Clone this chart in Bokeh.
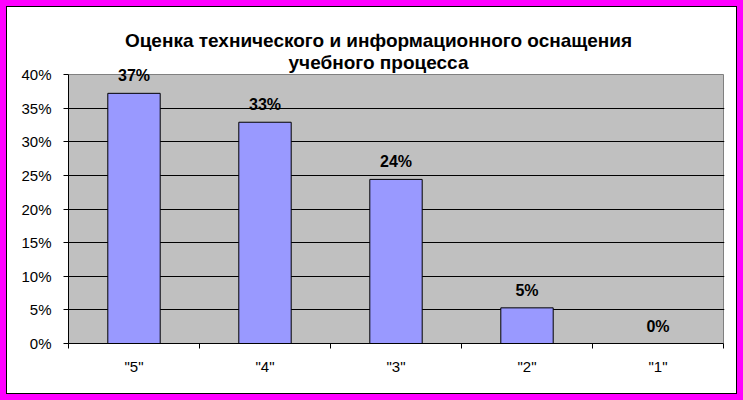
from bokeh.plotting import figure
from bokeh.models import (Range1d, FixedTicker, NumeralTickFormatter, LabelSet,
                          ColumnDataSource, Label)
from bokeh.core.properties import value
from bokeh.embed import file_html
from bokeh.resources import INLINE

# ---- data ----
categories = ['"5"', '"4"', '"3"', '"2"', '"1"']
values = [0.372, 0.329, 0.244, 0.053, 0.0]
value_labels = ["37%", "33%", "24%", "5%", "0%"]
y_ticks = [0.0, 0.05, 0.10, 0.15, 0.20, 0.25, 0.30, 0.35, 0.40]
title_lines = ["Оценка технического и информационного оснащения",
               "учебного процесса"]

FONT = "Liberation Sans"

n = len(categories)
centers = [i + 0.5 for i in range(n)]
bounds = [float(i) for i in range(n + 1)]

# ---- layout (pixels) ----
W, H = 743, 400
AREA_LEFT, AREA_TOP, AREA_W, AREA_H = 68, 74, 655, 269   # gray plot area
FRAME_TOP, PAD_RIGHT = 8, 1                               # frame extends up to hold the title
PAD_TOP = AREA_TOP - FRAME_TOP
y_max = y_ticks[-1] * (AREA_H + PAD_TOP) / AREA_H
x_max = n * (AREA_W + PAD_RIGHT) / AREA_W


def px_to_x(px):
    return (px - AREA_LEFT) / AREA_W * n


def px_to_y(py):
    return (AREA_TOP + AREA_H - py) / AREA_H * y_ticks[-1]


src = ColumnDataSource(dict(x=centers, top=values, cat=categories, lab=value_labels))

p = figure(width=W, height=H,
           x_range=Range1d(0, x_max), y_range=Range1d(y_ticks[0], y_max),
           output_backend="svg", toolbar_location=None,
           min_border_left=AREA_LEFT, min_border_right=W - AREA_LEFT - AREA_W - PAD_RIGHT,
           min_border_top=FRAME_TOP, min_border_bottom=H - AREA_TOP - AREA_H)
p.title_location = None

p.styles = {"background-color": "white",
            "box-shadow": "inset 0 0 0 6px #FF00FF, inset 0 0 0 7px #000000"}

p.background_fill_color = None
p.border_fill_color = None
p.outline_line_color = None

# gray plot area with its gray border
p.quad(left=0, right=n, bottom=y_ticks[0], top=y_ticks[-1],
       fill_color="#C0C0C0", line_color="#808080", line_width=1, level="image")

p.vbar(x="x", top="top", bottom=0, width=0.4, source=src,
       fill_color="#9999FF", line_color="black", line_width=1)

# axes
p.yaxis.ticker = FixedTicker(ticks=y_ticks)
p.yaxis.bounds = (y_ticks[0], y_ticks[-1])
p.yaxis.formatter = NumeralTickFormatter(format="0%")
p.yaxis.major_tick_out = 5
p.yaxis.major_tick_in = 0
p.yaxis.minor_tick_out = 0
p.yaxis.minor_tick_in = 0
p.yaxis.major_label_standoff = 12
p.yaxis.major_label_text_font = FONT
p.yaxis.major_label_text_font_size = "15px"
p.yaxis.major_label_text_color = "black"
p.yaxis.axis_line_color = "black"

p.xaxis.ticker = FixedTicker(ticks=centers, minor_ticks=bounds)
p.xaxis.bounds = (0, n)
p.xaxis.major_label_overrides = {c: cat for c, cat in zip(centers, categories)}
p.xaxis.major_tick_out = 0
p.xaxis.major_tick_in = 0
p.xaxis.minor_tick_out = 5
p.xaxis.minor_tick_in = 0
p.xaxis.minor_tick_line_color = "black"
p.xaxis.major_label_standoff = 9
p.xaxis.major_label_text_font = FONT
p.xaxis.major_label_text_font_size = "15px"
p.xaxis.major_label_text_color = "black"
p.xaxis.axis_line_color = "black"

p.xgrid.visible = False
p.ygrid.ticker = FixedTicker(ticks=y_ticks[1:-1])
p.ygrid.bounds = (0, n)
p.ygrid.grid_line_color = "black"
p.ygrid.grid_line_width = 1

labels = LabelSet(x="x", y="top", text="lab", source=src, level="overlay",
                  text_align="center", text_baseline="alphabetic",
                  y_offset=12, text_font=value(FONT), text_font_style="bold",
                  text_font_size="16px", text_color="black")
p.add_layout(labels)

# chart title: two centred lines
for line, py in zip(title_lines, [40, 62]):
    p.add_layout(Label(x=px_to_x(378), y=px_to_y(py), text=line,
                       text_align="center", text_baseline="middle",
                       text_font=FONT, text_font_style="bold", text_font_size="19px",
                       text_color="black"))

open("out.html", "w").write(file_html(p, INLINE))
